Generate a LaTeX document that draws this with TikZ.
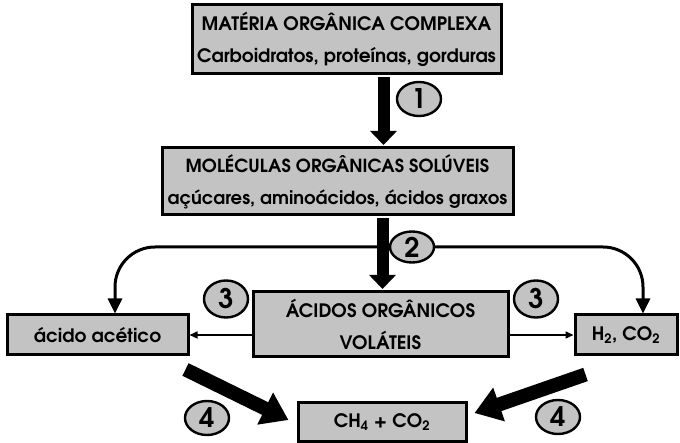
\documentclass[tikz,border=0pt]{standalone}
\usepackage{fontspec}
\setmainfont{texgyreadventor}[Extension=.otf, UprightFont=*-regular, BoldFont=*-bold]
\usetikzlibrary{arrows.meta,calc,shapes.geometric}
\definecolor{boxgray}{HTML}{C3C3C3}
\begin{document}
\begin{tikzpicture}[x=1pt,y=-1pt,
 box/.style={draw=black, line width=3pt, fill=boxgray, inner sep=0pt, align=center,
   font=\bfseries\fontsize{18.5}{32}\selectfont},
 num/.style={ellipse, draw=black, line width=2.4pt, fill=boxgray, minimum width=44pt, minimum height=34pt,
   inner sep=0pt, font=\bfseries\fontsize{27}{27}\selectfont},
 bigdown/.style={line width=12pt, -{Triangle[width=26pt,length=14pt]}},
 thin/.style={line width=1.5pt, -{Triangle[width=7pt,length=8pt]}},
 curved/.style={line width=3pt, rounded corners=40pt, -{Triangle[width=14pt,length=15pt]}},
 fat/.style={line width=14pt, -{Triangle[width=34pt,length=26pt]}},
 ]
\useasboundingbox (0,0) rectangle (680,443);
\fill[white] (0,0) rectangle (680,443);

\node[box, minimum width=309pt, minimum height=69pt] (b1) at (346.5,39.5)
  {MATÉRIA ORGÂNICA COMPLEXA\\Carboidratos, proteínas, gorduras};
\node[box, minimum width=351pt, minimum height=67pt, font=\bfseries\fontsize{18}{32}\selectfont] (b2) at (337.5,181.5)
  {MOLÉCULAS ORGÂNICAS SOLÚVEIS\\açúcares, aminoácidos, ácidos graxos};
\node[box, minimum width=255pt, minimum height=65pt] (b3) at (380.5,324.5)
  {ÁCIDOS ORGÂNICOS\\VOLÁTEIS};
\node[box, minimum width=181pt, minimum height=40pt] (ac) at (97.5,335) {ácido acético};
\node[box, minimum width=102pt, minimum height=40pt] (h2) at (626,335) {H\textsubscript{2}, CO\textsubscript{2}};
\node[box, minimum width=168pt, minimum height=38pt] (ch4) at (382,422) {CH\textsubscript{4} + CO\textsubscript{2}};

\node[num] (n1) at (419,99) {1};
\node[num, minimum height=31pt] (n2) at (412,247) {2};
\node[num, minimum height=37pt] (n3l) at (226,299) {3};
\node[num, minimum height=37pt] (n3r) at (536,299) {3};
\node[num] (n4l) at (207,418) {4};
\node[num] (n4r) at (558,417) {4};

% branches from step 2
\draw[curved] (n2.west) -| ($(ac.north)+(17.5,0)$);
\draw[curved] (n2.east) -| ($(h2.north)+(17,0)$);

% main vertical arrows
\draw[bigdown] ($(b1.south -| b3.north)+(3,1.5)$) -- ($(b2.north -| b3.north)+(3,-1.5)$);
\draw[bigdown] ($(b2.south -| b3.north)+(2,1.5)$) -- ($(b3.north)+(2,-1.5)$);

% thin arrows
\draw[thin] (b3.west |- ac) -- (ac.east);
\draw[thin] (b3.east |- h2) -- (h2.west);

% fat arrows to methane
\draw[fat] ($(ac.south east)+(-4,13)$) -- ($(ch4.west)+(-8,-2)$);
\draw[fat] ($(h2.south west)+(12,18)$) -- ($(ch4.east)+(7,-9)$);
\end{tikzpicture}
\end{document}
